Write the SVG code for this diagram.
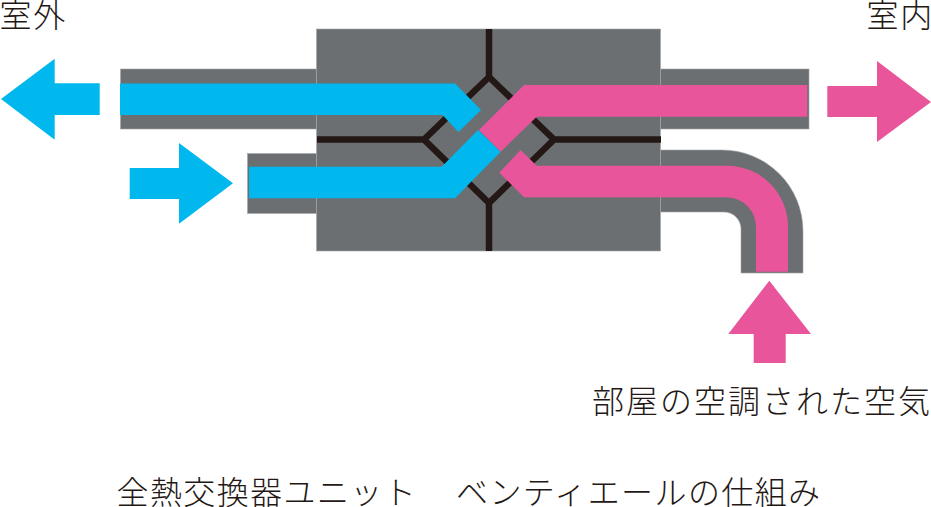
<svg xmlns="http://www.w3.org/2000/svg" width="931" height="507" viewBox="0 0 931 507">
<style>
text{font-family:"Noto Sans CJK JP","Noto Sans CJK SC",sans-serif;fill:#231815;font-size:32px;font-weight:300;letter-spacing:1.8px}
.g{fill:#6b6f72;stroke:#a3a6a8;stroke-width:.6}.b{fill:#00b8ee}.p{fill:#e9559b}
.k{fill:none;stroke:#231815;stroke-width:6.500;stroke-linejoin:miter}
</style>
<g id="unit"><rect class="g" x="316.500" y="29" width="344" height="222"/></g>
<g id="ducts">
<rect class="g" x="120.500" y="69" width="196" height="60"/>
<rect class="g" x="247.500" y="153.500" width="69" height="60"/>
<rect class="g" x="660.500" y="69" width="148.500" height="60"/>
<path class="g" d="M660.500 150H722A81 81 0 0 1 803 231V273H741V229A17 17 0 0 0 724 212H660.500Z"/>
</g>
<g id="core"><path class="k" d="M489 29V77M489 203V251M317 139.500H424M554 139.500H661M489 77L424 139.500L489 203L554 139.500Z"/></g>
<g id="flows">
<path class="b" d="M120 83.500H455L481 110L458.500 132L442.500 115H120Z"/>
<path class="b" d="M249 166.700H441.700L478 130L500.700 151.700L455 198.300H249Z"/>
<path class="p" d="M479 130L524 85H807.300V116.700H536.700L500.700 151.700Z"/>
<path class="p" d="M499.300 172.700L520.700 150L536.700 165.700H727A61 61 0 0 1 788 227V271.700H756V227A29.500 29.500 0 0 0 727 197.300H524Z"/>
</g>
<g id="arrow-out-left"><path class="b" d="M1 99L54.700 58.700V83.300H99.700V115H54.700V139.700Z"/></g>
<g id="arrow-in-right"><path class="b" d="M233 183.300L179 143V168H129.700V199H179V223.700Z"/></g>
<g id="arrow-out-right"><path class="p" d="M931 102L877 61V86H827.300V117H877V142Z"/></g>
<g id="arrow-up"><path class="p" d="M769.300 280.700L728.300 334H753.700V363H785.700V334H811Z"/></g>
<g id="labels">
<text x="-0.5" y="26.500">室外</text>
<text x="866.500" y="26.500">室内</text>
<text x="592" y="413" style="letter-spacing:2px">部屋の空調された空気</text>
<text x="116.500" y="504" style="letter-spacing:1.400px">全熱交換器ユニット<tspan x="456">ベンティエールの仕組み</tspan></text>
</g>
</svg>
